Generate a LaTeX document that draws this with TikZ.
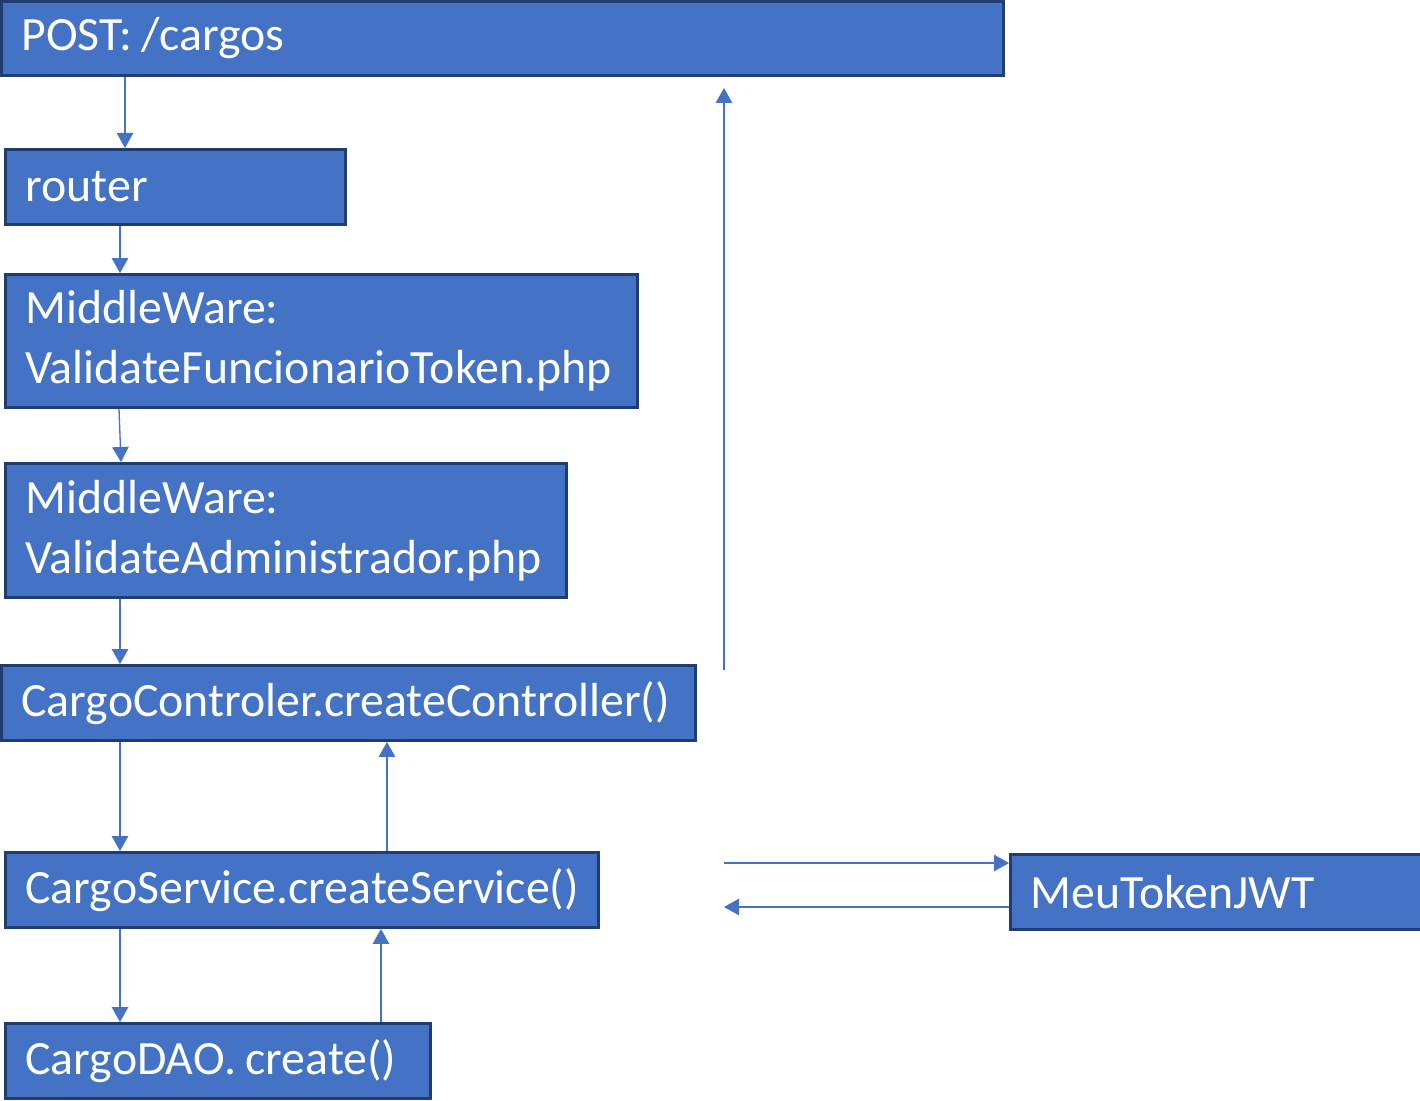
\documentclass[tikz,border=0pt]{standalone}
\usepackage{fontspec}
\setmainfont{Carlito}
\usetikzlibrary{arrows.meta,positioning,calc}
\definecolor{boxfill}{HTML}{4472C4}
\definecolor{boxline}{HTML}{203D72}
\newcommand{\gap}{\hspace{0.2em}}

\begin{document}
\begin{tikzpicture}[x=0.02cm,y=-0.02cm,>={Triangle[length=3mm,width=3.3mm]},
blk/.style={draw=boxline,line width=1.7pt,fill=boxfill,text=white,anchor=north west,align=left,inner xsep=0.4cm,inner ysep=0pt,font=\fontsize{27.2}{34}\selectfont},
flow/.style={->,draw=boxfill,line width=0.75pt}]
\useasboundingbox (0,0) rectangle (1420,1101);
\node[blk,text width=19.24cm,minimum height=1.48cm] (post) at (0,0) {POST:\gap/cargos};
\node[blk,text width=6cm,minimum height=1.5cm] (router) at (4,148) {router};
\node[blk,text width=11.84cm,minimum height=2.66cm] (functoken) at (4,273) {MiddleWare:\\ValidateFuncionarioToken.php};
\node[blk,text width=10.42cm,minimum height=2.68cm] (admin) at (4,462) {MiddleWare:\\ValidateAdministrador.php};
\node[blk,text width=13.08cm,minimum height=1.5cm] (ctrl) at (0,664) {CargoControler.createController()};
\node[blk,text width=11.06cm,minimum height=1.5cm] (service) at (4,851) {CargoService.createService()};
\node[blk,text width=7.7cm,minimum height=1.5cm] (dao) at (4,1022) {CargoDAO.\gap create()};
\node[blk,text width=7.6cm,minimum height=1.5cm] (jwt) at (1009,853) {MeuTokenJWT};
% free ends
\coordinate (retlow) at (724,670);
\coordinate (rethigh) at (724,88);
\coordinate (jwtout) at (724,863);
\coordinate (jwtin) at (724,907);
% down the chain
\draw[flow] (125,0 |- post.south) -- (125,0 |- router.north);
\draw[flow] (120,0 |- router.south) -- (120,0 |- functoken.north);
\draw[flow] (119,0 |- functoken.south) -- (121,0 |- admin.north);
\draw[flow] (120,0 |- admin.south) -- (120,0 |- ctrl.north);
\draw[flow] (120,0 |- ctrl.south) -- (120,0 |- service.north);
\draw[flow] (120,0 |- service.south) -- (120,0 |- dao.north);
% back up
\draw[flow] (381,0 |- dao.north) -- (381,0 |- service.south);
\draw[flow] (387,0 |- service.north) -- (387,0 |- ctrl.south);
\draw[flow] (retlow) -- (rethigh);
% token
\draw[flow] (jwtout) -- (jwtout -| jwt.west);
\draw[flow] (jwtin -| jwt.west) -- (jwtin);
\end{tikzpicture}
\end{document}
